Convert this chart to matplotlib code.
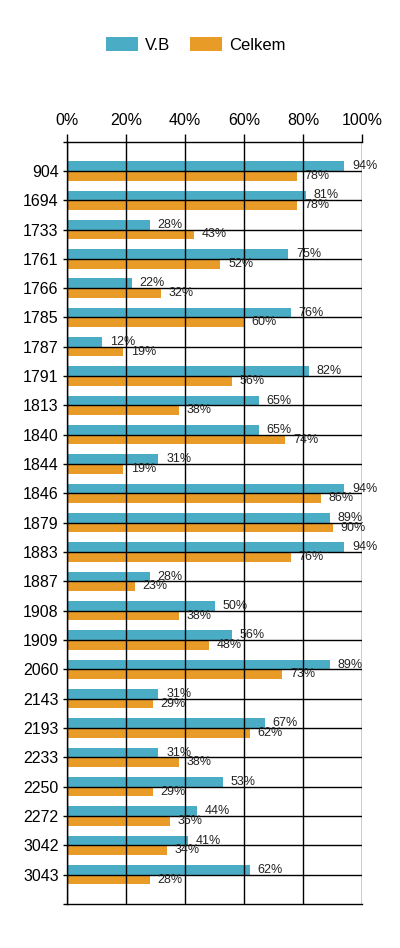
import matplotlib
matplotlib.use("Agg")
import matplotlib.pyplot as plt
import numpy as np

plt.rcParams['font.family'] = ['Liberation Sans', 'DejaVu Sans']

# Data
stations = ['904', '1694', '1733', '1761', '1766', '1785', '1787', '1791', '1813',
            '1840', '1844', '1846', '1879', '1883', '1887', '1908', '1909', '2060',
            '2143', '2193', '2233', '2250', '2272', '3042', '3043']
vb = [94, 81, 28, 75, 22, 76, 12, 82, 65, 65, 31, 94, 89, 94, 28, 50, 56, 89,
      31, 67, 31, 53, 44, 41, 62]
celkem = [78, 78, 43, 52, 32, 60, 19, 56, 38, 74, 19, 86, 90, 76, 23, 38, 48, 73,
          29, 62, 38, 29, 35, 34, 28]
x_ticks = [0, 20, 40, 60, 80, 100]

teal = '#4aacc5'
orange = '#e99b27'

fig = plt.figure(figsize=(4.0, 9.48), dpi=100)
ax = fig.add_axes([0.1675, 0.0464, 0.7375, 0.8043])

y = np.arange(len(stations))
h = 0.33
b1 = ax.barh(y - h / 2, vb, height=h, color=teal, label='V.B', zorder=2)
b2 = ax.barh(y + h / 2, celkem, height=h, color=orange, label='Celkem', zorder=2)

# value labels
for bars, vals in [(b1, vb), (b2, celkem)]:
    for bar, v in zip(bars, vals):
        ax.annotate(f'{v}%', (bar.get_width(), bar.get_y() + bar.get_height() / 2),
                    xytext=(5.5, 0), textcoords='offset points', va='center', ha='left',
                    fontsize=9, color='#222222', zorder=4)

ax.set_xlim(0, 100)
ax.set_ylim(25, -1)

# grid lines (black) on categories and percent ticks
for yy in y:
    ax.axhline(yy, color='black', linewidth=1, zorder=3)
for xx in x_ticks:
    ax.axvline(xx, color='black', linewidth=1, zorder=3)

ax.xaxis.tick_top()
ax.set_xticks(x_ticks)
ax.set_xticklabels([f'{t}%' for t in x_ticks])
ax.tick_params(axis='x', direction='out', length=6, width=1, pad=4, labelsize=11.5)

ax.set_yticks(np.arange(-1, 26))
ax.set_yticklabels([''] + stations + [''])
ax.tick_params(axis='y', direction='out', length=3, width=1, pad=3, labelsize=11.5)

for side in ['top', 'bottom', 'left', 'right']:
    ax.spines[side].set_linewidth(1)
    ax.spines[side].set_color('black')
ax.spines['right'].set_visible(False)

fig.legend(handles=[b1, b2], labels=['V.B', 'Celkem'], loc='center',
           bbox_to_anchor=(0.49, 1 - 45 / 948), ncol=2, frameon=False,
           fontsize=12, handlelength=1.9, handleheight=0.85,
           handletextpad=0.45, columnspacing=1.2)

fig.savefig('out.png', dpi=100, facecolor='white')
